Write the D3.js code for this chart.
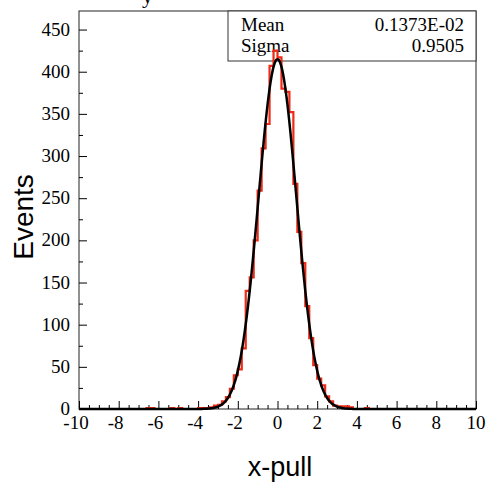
<!DOCTYPE html>
<html>
<head>
<meta charset="utf-8">
<script src="https://cdn.jsdelivr.net/npm/d3@7"></script>
<style>
  body { margin: 0; background: #fff; }
  svg { display: block; }
</style>
</head>
<body>
<svg width="487" height="482"></svg>
<script>
// histogram of x-pull, 100 bins from -10 to 10
const binLo = -10;
const binHi = 10;
const counts = [
  0, 0, 0, 0, 0, 0, 0, 0, 0, 0,
  0, 0, 0, 0, 0, 0, 0, 1, 1, 0,
  0, 0, 0, 1, 0, 1, 0, 0, 0, 0,
  1, 1, 1, 2, 4, 5, 9, 14, 24, 40,
  47, 72, 140, 156, 200, 259, 309, 338, 407, 425,
  417, 380, 376, 352, 267, 210, 173, 122, 84, 52,
  36, 28, 15, 9, 4, 3, 3, 3, 2, 0,
  0, 0, 1, 0, 0, 0, 0, 0, 0, 0,
  0, 0, 0, 0, 0, 0, 0, 0, 0, 0,
  0, 0, 0, 0, 0, 0, 0, 0, 0, 0
];
// gaussian fit shown on top
const fitConst = 415;
const fitMean = 0.0;
const fitSigma = 0.95;

const statNames = ["Mean", "Sigma"];
const statValues = ["0.1373E-02", "0.9505"];

const xTicks = [-10, -8, -6, -4, -2, 0, 2, 4, 6, 8, 10];
const yTicks = [0, 50, 100, 150, 200, 250, 300, 350, 400, 450];

const pL = 79, pR = 476, pT = 11, pB = 409;
const svg = d3.select("svg");

let x = d3.scaleLinear().domain([binLo, binHi]).range([pL, pR]);
let y = d3.scaleLinear().domain([0, 472]).range([pB, pT]);

const serif = "'Liberation Serif', 'DejaVu Serif', serif";
const sans = "'Liberation Sans', Arial, sans-serif";

// cut off title descender at the very top
svg.append("text")
    .attr("x", 142).attr("y", 3)
    .attr("font-family", serif).attr("font-size", 22)
    .text("y");

// frame
svg.append("rect")
    .attr("x", pL).attr("y", pT)
    .attr("width", pR - pL).attr("height", pB - pT)
    .attr("fill", "none").attr("stroke", "#222").attr("stroke-width", 1);

// y axis: ticks pointing inward
let yAxis = svg.append("g").attr("transform", `translate(${pL},0)`)
    .call(d3.axisRight(y).tickValues(d3.range(0, 472, 25)).tickSize(4).tickFormat(""));
yAxis.select(".domain").remove();
yAxis.selectAll(".tick line").filter(d => d % 50 === 0).attr("x2", 8);

svg.append("g").selectAll("text")
    .data(yTicks).enter().append("text")
    .attr("x", 70).attr("y", d => y(d) + 6)
    .attr("text-anchor", "end")
    .attr("font-family", serif).attr("font-size", 19)
    .text(d => d);

// x axis
let xAxis = svg.append("g").attr("transform", `translate(0,${pB})`)
    .call(d3.axisTop(x).tickValues(d3.range(-10, 10.01, 0.5)).tickSize(4).tickFormat(""));
xAxis.select(".domain").remove();
xAxis.selectAll(".tick line").filter(d => Math.abs(d % 2) < 1e-6).attr("y2", -8);

svg.append("g").selectAll("text")
    .data(xTicks).enter().append("text")
    .attr("x", d => x(d) - (d < 0 ? 3 : 0)).attr("y", 429)
    .attr("text-anchor", "middle")
    .attr("font-family", serif).attr("font-size", 19)
    .text(d => d);

// axis titles
svg.append("text")
    .attr("x", 280).attr("y", 476)
    .attr("text-anchor", "middle")
    .attr("font-family", sans).attr("font-size", 27)
    .text("x-pull");

svg.append("text")
    .attr("transform", "translate(33,217) rotate(-90)")
    .attr("text-anchor", "middle")
    .attr("font-family", sans).attr("font-size", 28)
    .text("Events");

// stats box
svg.append("rect")
    .attr("x", 228).attr("y", pT)
    .attr("width", pR - 228).attr("height", 50)
    .attr("fill", "#fff").attr("stroke", "#333").attr("stroke-width", 1);
statNames.forEach((s, i) => {
    svg.append("text").attr("x", 241).attr("y", 31 + i * 21)
        .attr("font-family", serif).attr("font-size", 19).text(s);
    svg.append("text").attr("x", 464).attr("y", 31 + i * 21)
        .attr("text-anchor", "end")
        .attr("font-family", serif).attr("font-size", 19).text(statValues[i]);
});

// histogram outline
const bw = (binHi - binLo) / counts.length;
let pts = [[binLo, 0]];
counts.forEach((c, i) => {
    pts.push([binLo + i * bw, c]);
    pts.push([binLo + (i + 1) * bw, c]);
});
pts.push([binHi, 0]);
svg.append("path")
    .attr("d", d3.line().x(d => x(d[0])).y(d => y(d[1]))(pts))
    .attr("fill", "none")
    .attr("stroke", "#f02a14")
    .attr("stroke-width", 2.2);

// fit curve
const fitX = d3.range(-10, 10.001, 0.05);
svg.append("path")
    .attr("d", d3.line().curve(d3.curveBasis)
        .x(d => x(d))
        .y(d => y(fitConst * Math.exp(-0.5 * Math.pow((d - fitMean) / fitSigma, 2))))(fitX))
    .attr("fill", "none")
    .attr("stroke", "#000")
    .attr("stroke-width", 2.5);
</script>
</body>
</html>
